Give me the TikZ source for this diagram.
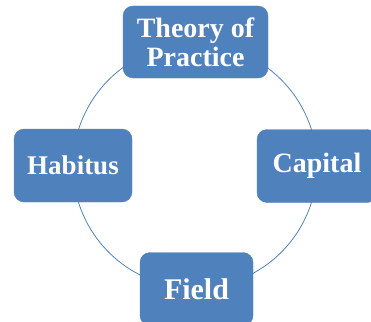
\documentclass[tikz,border=0pt]{standalone}
\usepackage{fontspec}
\setmainfont{Liberation Serif}
\definecolor{boxblue}{RGB}{79,129,189}
\definecolor{ringblue}{RGB}{79,129,189}
\begin{document}
\begin{tikzpicture}[x=1pt,y=-1pt,
  concept/.style={draw=boxblue, fill=boxblue, rounded corners=10pt, text=white,
    font=\bfseries, align=center, inner sep=0pt, minimum height=73pt},
  ring/.style={draw=ringblue, line width=0.8pt}]
\useasboundingbox (0,0) rectangle (371,321);
\clip (0,0) rectangle (371,321);
\coordinate (c) at (195,166);
\draw[ring] (c) circle[radius=122];
\node[concept, minimum width=145pt, minimum height=72pt, font=\fontsize{28}{29}\selectfont\bfseries] (theory) at (195.5,42) {Theory of\\Practice};
\node[concept, minimum width=118pt, font=\fontsize{27}{29}\selectfont\bfseries] (habitus) at (73,165.5) {Habitus};
\node[concept, minimum width=120pt, font=\fontsize{28}{29}\selectfont\bfseries] (capital) at (317,166) {Capital};
\node[concept, minimum width=113pt, font=\fontsize{30}{32}\selectfont\bfseries] (field) at (196.5,289) {Field};
\end{tikzpicture}
\end{document}
